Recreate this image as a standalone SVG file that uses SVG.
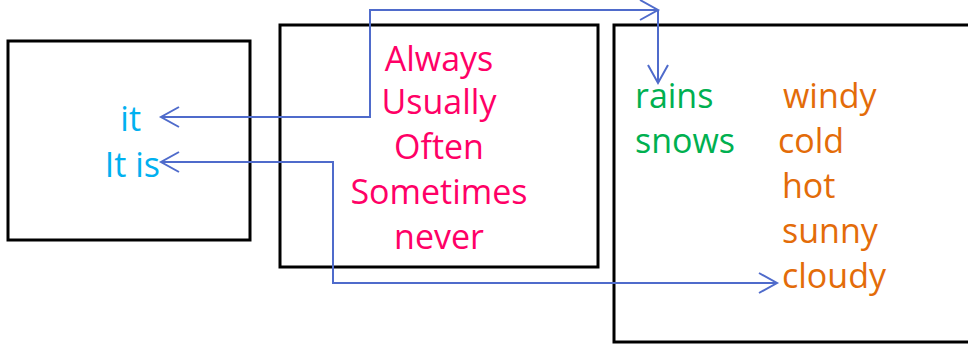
<svg xmlns="http://www.w3.org/2000/svg" width="968" height="349" viewBox="0 0 968 349">
<style>
.box{fill:none;stroke:#000;stroke-width:3}
.t{font-family:"Open Sans","DejaVu Sans",sans-serif;font-size:34px}
.cy{fill:#00B0F0}.pk{fill:#FF0066}.gr{fill:#00B050}.or{fill:#E36C09}
.c{fill:none;stroke:#4F6BCB;stroke-width:2}
</style>
<defs>
<marker id="ah" markerUnits="userSpaceOnUse" markerWidth="22" markerHeight="24" refX="19" refY="11" orient="auto-start-reverse" viewBox="0 0 22 24">
<path d="M1,1 L19,11 L1,21" fill="none" stroke="#4F6BCB" stroke-width="2"/>
</marker>
</defs>
<rect width="968" height="349" fill="#fff"/>
<g id="node-subject">
<rect class="box" x="8" y="41" width="242" height="199"/>
<text class="t cy" x="141" y="131" text-anchor="end">it</text>
<text class="t cy" x="160" y="177" text-anchor="end">It is</text>
</g>
<g id="node-frequency">
<rect class="box" x="280" y="25" width="318" height="242"/>
<text class="t pk" x="439" y="71" text-anchor="middle">Always</text>
<text class="t pk" x="439" y="114" text-anchor="middle">Usually</text>
<text class="t pk" x="439" y="159" text-anchor="middle">Often</text>
<text class="t pk" x="439" y="204" text-anchor="middle">Sometimes</text>
<text class="t pk" x="439" y="249" text-anchor="middle">never</text>
</g>
<g id="node-weather">
<rect class="box" x="614" y="25" width="360" height="317"/>
<text class="t gr" x="635" y="108">rains</text>
<text class="t gr" x="635" y="153">snows</text>
<text class="t or" x="783" y="108">windy</text>
<text class="t or" x="778" y="153">cold</text>
<text class="t or" x="782" y="198">hot</text>
<text class="t or" x="782" y="243">sunny</text>
<text class="t or" x="782" y="288">cloudy</text>
</g>
<g id="connectors">
<path class="c" d="M161,117 H370 V10 H658" marker-start="url(#ah)" marker-end="url(#ah)"/>
<path class="c" d="M658,10 V83" marker-end="url(#ah)"/>
<path class="c" d="M161,162 H333 V283 H777" marker-start="url(#ah)" marker-end="url(#ah)"/>
</g>
</svg>
